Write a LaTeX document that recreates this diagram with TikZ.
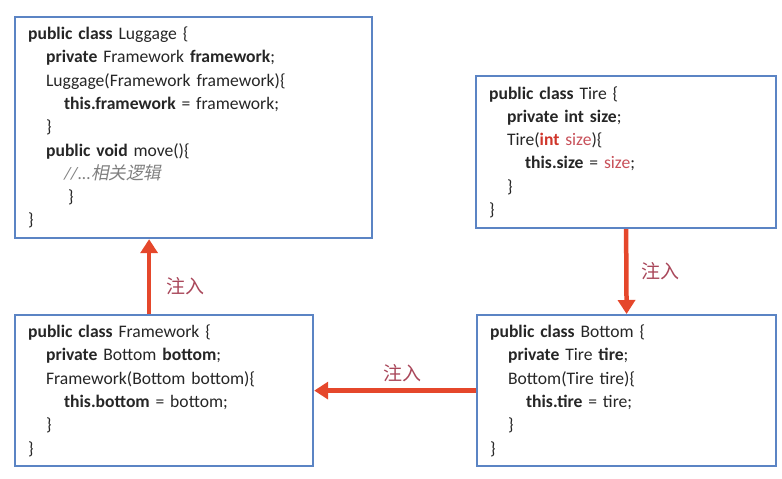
\documentclass[tikz,border=0pt]{standalone}
\usepackage{fontspec}
\setmainfont{Carlito}
\newfontfamily\cjk{Noto Sans CJK SC}
\newfontfamily\cjkslant[FakeSlant=0.2]{Noto Sans CJK SC}
\usetikzlibrary{arrows.meta,positioning,calc}
\definecolor{boxblue}{HTML}{5B84C4}
\definecolor{injectred}{HTML}{E5472B}
\definecolor{labelred}{HTML}{A9475A}
\definecolor{codegray}{HTML}{262626}
\definecolor{commentgray}{HTML}{808080}
\definecolor{kwred}{HTML}{D0352A}
\definecolor{argred}{HTML}{C8515A}

\newcommand{\ind}{\hspace*{18pt}}
\tikzset{
  classbox/.style={draw=boxblue, line width=2.2pt, fill=white, anchor=north west, inner xsep=13pt, inner ysep=0pt, align=left, font=\fontsize{17.6}{23.3}\selectfont, text=codegray},
  inject/.style={draw=injectred, line width=4.5pt, -{Triangle[width=17pt,length=14pt]}},
  injectlabel/.style={text=labelred, font=\cjk\fontsize{19}{22}\selectfont}
}

\begin{document}
\begin{tikzpicture}[x=1pt,y=1pt]
\useasboundingbox (0,0) rectangle (782,-479);
% the four classes
\node[classbox, text width=331pt, minimum height=221pt] (luggage) at (14,-16) {
  \textbf{public class} Luggage \{\\
  \ind\textbf{private} Framework \textbf{framework};\\
  \ind Luggage(Framework framework)\{\\
  \ind\ind\textbf{this.framework} = framework;\\
  \ind\}\\
  \ind\textbf{public void} move()\{\\
  \ind\ind{\color{commentgray}\itshape //...\cjkslant 相关逻辑}\\
  \ind\ind\hspace*{4pt}\}\\
  \}};
\node[classbox, text width=274pt, minimum height=152pt] (tire) at (475,-75) {
  \textbf{public class} Tire \{\\
  \ind\textbf{private int size};\\
  \ind Tire({\color{kwred}\textbf{int}} {\color{argred}size})\{\\
  \ind\ind\textbf{this.size} = {\color{argred}size};\\
  \ind\}\\
  \}};
\node[classbox, text width=272pt, minimum height=151pt] (framework) at (14,-314) {
  \textbf{public class} Framework \{\\
  \ind\textbf{private} Bottom \textbf{bottom};\\
  \ind Framework(Bottom bottom)\{\\
  \ind\ind\textbf{this.bottom} = bottom;\\
  \ind\}\\
  \}};
\node[classbox, text width=273pt, minimum height=151pt] (bottom) at (476,-314) {
  \textbf{public class} Bottom \{\\
  \ind\textbf{private} Tire \textbf{tire};\\
  \ind Bottom(Tire tire)\{\\
  \ind\ind\textbf{this.tire} = tire;\\
  \ind\}\\
  \}};
% injections
\draw[inject] (tire.south) -- (bottom.north)
  node[injectlabel, midway, right=10pt] (inj1) {注入};
\draw[inject] (bottom.west) -- (framework.east)
  node[injectlabel, midway, above=3pt, xshift=7pt] (inj2) {注入};
\draw[inject] ([xshift=-15pt]framework.north) -- ([xshift=-15pt]framework.north |- luggage.south)
  node[injectlabel, midway, right=12pt, yshift=-10pt] (inj3) {注入};
\end{tikzpicture}
\end{document}
